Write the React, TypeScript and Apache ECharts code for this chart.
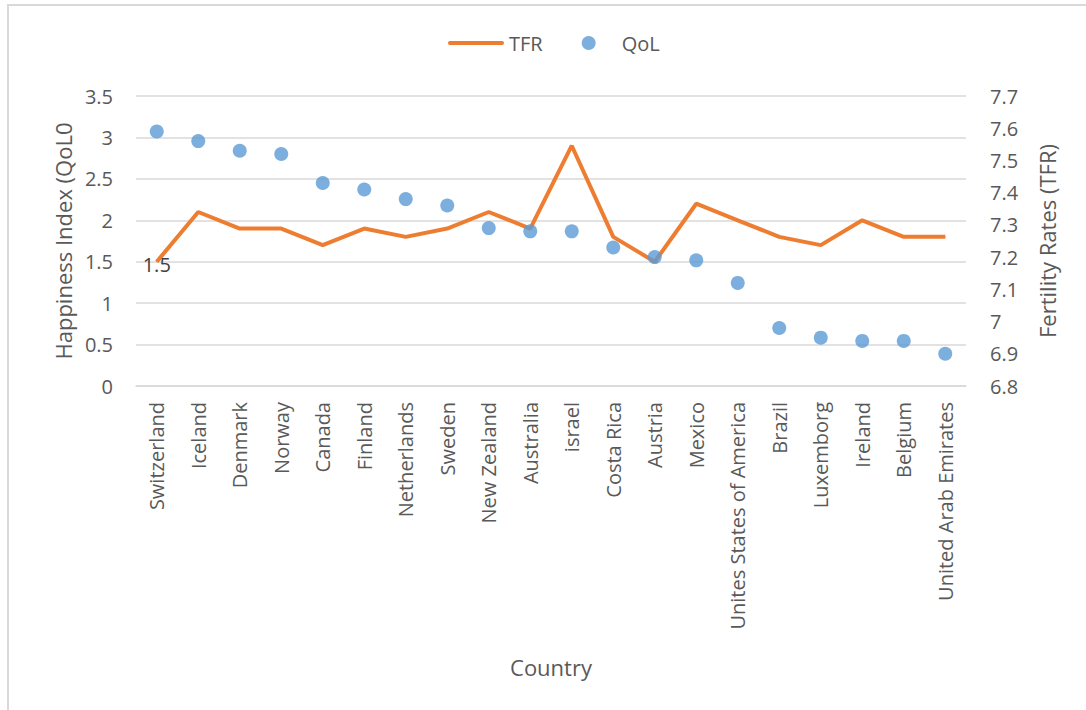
import React, { useEffect, useRef } from "react";
import * as echarts from "echarts";

// Countries on the category axis
const countries = [
  "Switzerland", "Iceland", "Denmark", "Norway", "Canada", "Finland",
  "Netherlands", "Sweden", "New Zealand", "Australia", "israel", "Costa Rica",
  "Austria", "Mexico", "Unites States of America", "Brazil", "Luxemborg",
  "Ireland", "Belgium", "United Arab Emirates",
];

// Total fertility rate (left axis)
const tfr = [1.5, 2.1, 1.9, 1.9, 1.7, 1.9, 1.8, 1.9, 2.1, 1.9, 2.9, 1.8, 1.5, 2.2, 2.0, 1.8, 1.7, 2.0, 1.8, 1.8];

// Quality of life / happiness score (right axis)
const qol = [7.59, 7.56, 7.53, 7.52, 7.43, 7.41, 7.38, 7.36, 7.29, 7.28, 7.28, 7.23, 7.2, 7.19, 7.12, 6.98, 6.95, 6.94, 6.94, 6.9];

const FONT = "'Open Sans', sans-serif";
const TEXT = "#595959";
const ORANGE = "#ED7D31";
const BLUE = "#5B9BD5";

export default function App() {
  const ref = useRef<HTMLDivElement>(null);

  useEffect(() => {
    if (!ref.current) return;
    const chart = echarts.init(ref.current, null, { renderer: "svg" });
    chart.setOption({
      animation: false,
      backgroundColor: "#ffffff",
      textStyle: { fontFamily: FONT, color: TEXT },
      legend: {
        left: 443,
        top: 28,
        itemWidth: 56,
        itemHeight: 14,
        itemGap: 39,
        symbolKeepAspect: true,
        textStyle: { fontFamily: FONT, fontSize: 20, color: TEXT },
        data: [
          { name: "TFR", icon: "path://M2,0L54,0A2,2,0,0,1,54,4L2,4A2,2,0,0,1,2,0Z" },
          { name: "QoL", icon: "circle" },
        ],
      },
      grid: { left: 136, right: 120, top: 96, bottom: 324 },
      xAxis: {
        type: "category",
        data: countries,
        boundaryGap: true,
        axisLine: { lineStyle: { color: "#d9d9d9", width: 1.5 } },
        axisTick: { show: false },
        axisLabel: {
          rotate: 90,
          interval: 0,
          margin: 16,
          fontFamily: FONT,
          fontSize: 20,
          color: TEXT,
        },
      },
      yAxis: [
        {
          type: "value",
          min: 0,
          max: 3.5,
          interval: 0.5,
          axisLine: { show: false },
          axisTick: { show: false },
          splitLine: { lineStyle: { color: "#d9d9d9", width: 1.5 } },
          axisLabel: { margin: 23, fontFamily: FONT, fontSize: 20, color: TEXT },
        },
        {
          type: "value",
          min: 6.8,
          max: 7.7,
          interval: 0.1,
          position: "right",
          axisLine: { show: false },
          axisTick: { show: false },
          splitLine: { show: false },
          axisLabel: { margin: 24, fontFamily: FONT, fontSize: 20, color: TEXT },
        },
      ],
      series: [
        {
          name: "TFR",
          type: "line",
          yAxisIndex: 0,
          data: tfr.map((v, i) =>
            i === 0
              ? {
                  value: v,
                  label: {
                    show: true,
                    position: "inside",
                    offset: [0, 3],
                    fontFamily: FONT,
                    fontSize: 20,
                    color: "#404040",
                    formatter: "{c}",
                  },
                }
              : v
          ),
          symbol: "circle",
          symbolSize: 1,
          showSymbol: true,
          lineStyle: { color: ORANGE, width: 4 },
          itemStyle: { color: ORANGE },
          z: 2,
        },
        {
          name: "QoL",
          type: "scatter",
          yAxisIndex: 1,
          data: qol,
          symbol: "circle",
          symbolSize: 14,
          itemStyle: { color: BLUE },
          z: 3,
        },
      ],
      graphic: [
        {
          type: "rect",
          shape: { x: 8, y: 5, width: 1200, height: 800 },
          style: { fill: "none", stroke: "#d9d9d9", lineWidth: 2 },
          silent: true,
        },
        {
          type: "text",
          x: 63,
          y: 241,
          rotation: Math.PI / 2,
          style: {
            text: "Happiness Index (QoL0",
            fontFamily: FONT,
            fontSize: 22,
            fill: TEXT,
            textAlign: "center",
            textVerticalAlign: "middle",
          },
        },
        {
          type: "text",
          x: 1047,
          y: 241,
          rotation: Math.PI / 2,
          style: {
            text: "Fertility Rates (TFR)",
            fontFamily: FONT,
            fontSize: 22,
            fill: TEXT,
            textAlign: "center",
            textVerticalAlign: "middle",
          },
        },
        {
          type: "text",
          x: 551,
          y: 667,
          style: {
            text: "Country",
            fontFamily: FONT,
            fontSize: 22,
            fill: TEXT,
            textAlign: "center",
            textVerticalAlign: "middle",
          },
        },
      ],
    });
    return () => chart.dispose();
  }, []);

  return (
    <div
      ref={ref}
      style={{ position: "absolute", left: 0, top: 0, width: 1086, height: 710 }}
    />
  );
}
